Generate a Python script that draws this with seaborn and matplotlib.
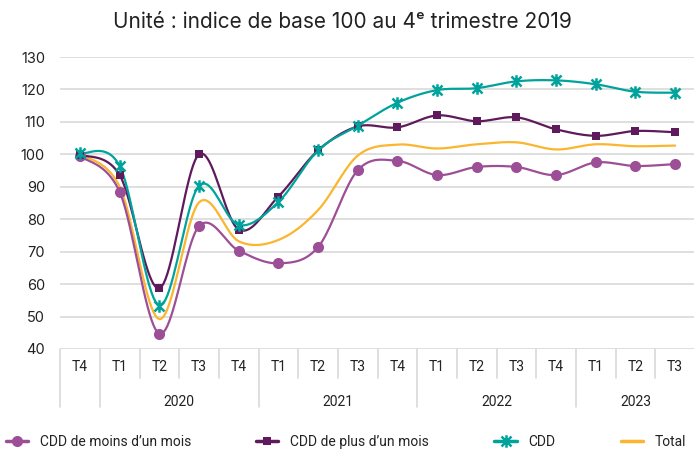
import numpy as np
import matplotlib
matplotlib.use("Agg")
import matplotlib.pyplot as plt
import seaborn as sns
from matplotlib.lines import Line2D
from matplotlib.path import Path
import matplotlib.transforms as mtransforms

# -----------------------------
# Data
# -----------------------------
quarters = ["T4", "T1", "T2", "T3", "T4", "T1", "T2", "T3",
            "T4", "T1", "T2", "T3", "T4", "T1", "T2", "T3"]
years = ["2020", "2021", "2022", "2023"]
year_start = [1, 5, 9, 13]
year_end = [4, 8, 12, 15]

cdd_moins = [99.5, 88.4, 44.7, 77.9, 70.3, 66.4, 71.4, 95.1,
             98.0, 93.6, 96.1, 96.1, 93.6, 97.5, 96.4, 97.0]
cdd_plus = [99.9, 93.6, 58.7, 100.0, 76.8, 87.0, 101.2, 108.6,
            108.3, 112.0, 110.2, 111.4, 107.7, 105.7, 107.2, 106.8]
cdd = [100.3, 96.4, 53.4, 90.3, 78.2, 85.3, 101.2, 108.8,
       115.9, 119.8, 120.4, 122.5, 122.8, 121.6, 119.3, 119.0]
total = [100.1, 90.0, 49.2, 85.2, 73.2, 73.6, 82.8, 99.6,
         103.0, 101.8, 103.1, 103.7, 101.5, 103.1, 102.5, 102.7]

series_labels = ["CDD de moins d\u2019un mois", "CDD de plus d\u2019un mois", "CDD", "Total"]
colors = ["#9C4F96", "#5E1A5A", "#00A39C", "#FBB52E"]

# asterisk like Excel's star marker
star = Path([(0, -1), (0, 1), (-0.8, -0.8), (0.8, 0.8), (-0.8, 0.8), (0.8, -0.8)],
            [Path.MOVETO, Path.LINETO, Path.MOVETO, Path.LINETO, Path.MOVETO, Path.LINETO])
markers = ["o", "s", star, None]
msizes = [8, 5.5, 9, 0]


def smooth(y, n=20):
    # Excel-like smoothed line (Catmull-Rom as cubic Bezier)
    y = np.asarray(y, dtype=float)
    x = np.arange(len(y), dtype=float)
    xs, ys = [], []
    t = np.linspace(0, 1, n, endpoint=False)
    for i in range(len(y) - 1):
        p0 = np.array([x[max(i - 1, 0)], y[max(i - 1, 0)]])
        p1 = np.array([x[i], y[i]])
        p2 = np.array([x[i + 1], y[i + 1]])
        p3 = np.array([x[min(i + 2, len(y) - 1)], y[min(i + 2, len(y) - 1)]])
        c1 = p1 + (p2 - p0) / 6
        c2 = p2 - (p3 - p1) / 6
        b = ((1 - t) ** 3)[:, None] * p1 + (3 * (1 - t) ** 2 * t)[:, None] * c1 \
            + (3 * (1 - t) * t ** 2)[:, None] * c2 + (t ** 3)[:, None] * p2
        xs.extend(b[:, 0])
        ys.extend(b[:, 1])
    xs.append(x[-1])
    ys.append(y[-1])
    return np.array(xs), np.array(ys)


sns.set_theme(style="white")
plt.rcParams["font.family"] = ["Inter", "DejaVu Sans"]

fig = plt.figure(figsize=(6.94, 4.59), dpi=100)
ax = fig.add_axes([0.0867, 0.2397, 0.9147, 0.6361])

all_series = [cdd_moins, cdd_plus, cdd, total]
# draw order: total, moins, plus, cdd on top
for idx in [3, 0, 1, 2]:
    vals = all_series[idx]
    xs, ys = smooth(vals)
    sns.lineplot(x=xs, y=ys, ax=ax, color=colors[idx], linewidth=1.6,
                 sort=False, estimator=None)
    if markers[idx] is not None:
        if idx == 2:
            ax.plot(range(len(vals)), vals, linestyle="none", marker=markers[idx],
                    markersize=msizes[idx], markeredgecolor=colors[idx],
                    markerfacecolor="none", markeredgewidth=1.8, zorder=5)
        else:
            ax.plot(range(len(vals)), vals, linestyle="none", marker=markers[idx],
                    markersize=msizes[idx], color=colors[idx],
                    markeredgewidth=0, zorder=5)

ax.set_xlim(-0.5, 15.5)
ax.set_ylim(40, 130)
ax.set_yticks(range(40, 131, 10))
ax.yaxis.grid(True, color="#D9D9D9", linewidth=1.2)
ax.xaxis.grid(False)
for s in ax.spines.values():
    s.set_visible(False)
ax.tick_params(axis="y", length=0, pad=11, labelsize=10.5, labelcolor="#222222")
ax.set_xticks(range(len(quarters)))
ax.set_xticklabels(quarters, fontsize=10, color="#222222", family=["Roboto", "DejaVu Sans"])
ax.tick_params(axis="x", length=0, pad=8)
ax.set_xlabel("")
ax.set_ylabel("")

# category separators below the axis
trans = mtransforms.blended_transform_factory(ax.transData, ax.transAxes)
for i in range(16):
    xpos = i - 0.5
    bottom = -0.20 if i in year_start or i == 0 else -0.10
    ax.plot([xpos, xpos], [0, bottom], transform=trans, color="#D9D9D9",
            linewidth=1.2, clip_on=False)
for yr, a, b in zip(years, year_start, year_end):
    ax.text((a + b) / 2, -0.18, yr, transform=trans, ha="center", va="center",
            fontsize=10, color="#222222", family=["Roboto", "DejaVu Sans"])

fig.text(0.493, 0.953, "Unit\u00e9 : indice de base 100 au 4\u1d49 trimestre 2019",
         ha="center", va="center", fontsize=15, color="#222222")

handles = []
for idx in range(4):
    if idx == 2:
        h = Line2D([], [], color=colors[idx], linewidth=2.5, marker=markers[idx],
                   markersize=msizes[idx], markeredgecolor=colors[idx],
                   markerfacecolor="none", markeredgewidth=1.8)
    elif markers[idx] is None:
        h = Line2D([], [], color=colors[idx], linewidth=2.5)
    else:
        h = Line2D([], [], color=colors[idx], linewidth=2.5, marker=markers[idx],
                   markersize=msizes[idx], markeredgewidth=0)
    handles.append(h)

fig.legend(handles, series_labels, loc="center left", bbox_to_anchor=(0.0, 0.038),
           ncol=4, frameon=False, handlelength=1.6, handletextpad=0.85,
           columnspacing=4.7, borderaxespad=0, borderpad=0.4,
           prop={"family": ["Roboto", "DejaVu Sans"], "size": 10},
           labelcolor="#222222")

fig.savefig("out.png", dpi=100)
